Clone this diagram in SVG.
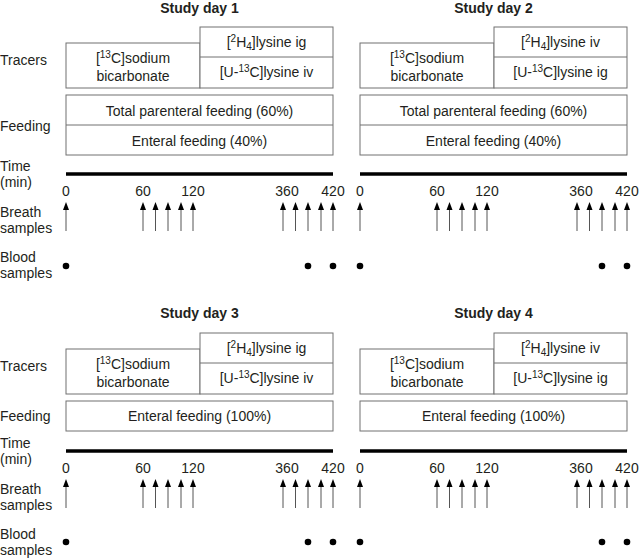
<svg xmlns="http://www.w3.org/2000/svg" width="640" height="560" viewBox="0 0 640 560">
<style>
text{font-family:"Liberation Sans",Arial,sans-serif;font-size:14px;fill:#231f20}
.title{font-weight:bold;font-size:14px;text-anchor:middle}
.c{text-anchor:middle}
.sup{font-size:10px}
.box{fill:#fff;stroke:#707070;stroke-width:1}
.tl{stroke:#000;stroke-width:3.5}
.ar{stroke:#555;stroke-width:1;marker-end:url(#ah)}
.dot{fill:#000}
</style>
<defs>
<marker id="ah" markerUnits="userSpaceOnUse" markerWidth="6" markerHeight="8" refX="3" refY="0" orient="auto-start-reverse" viewBox="0 0 6 8" overflow="visible">
<path d="M0,8 L3,0 L6,8 Z" fill="#000" transform="rotate(90 3 0) translate(0,-8) rotate(0)"/>
</marker>
</defs>
<g id="row-labels">
<text x="0" y="65">Tracers</text>
<text x="0" y="131">Feeding</text>
<text x="0" y="171">Time</text>
<text x="0" y="187">(min)</text>
<text x="0" y="217">Breath</text>
<text x="0" y="233">samples</text>
<text x="0" y="262">Blood</text>
<text x="0" y="278">samples</text>
<text x="0" y="371">Tracers</text>
<text x="0" y="421">Feeding</text>
<text x="0" y="448">Time</text>
<text x="0" y="464">(min)</text>
<text x="0" y="494">Breath</text>
<text x="0" y="510">samples</text>
<text x="0" y="539">Blood</text>
<text x="0" y="555">samples</text>
</g>
<!-- Panel 1 -->
<g id="day1">
<text class="title" x="199.5" y="13">Study day 1</text>
<g id="day1-bicarb"><rect class="box" x="66" y="43" width="134" height="45"/>
<text class="c" x="133" y="63">[<tspan class="sup" dy="-5">13</tspan><tspan dy="5">C]sodium</tspan></text>
<text class="c" x="133" y="81">bicarbonate</text></g>
<g id="day1-lys"><rect class="box" x="200" y="27" width="133" height="61"/><line class="box" x1="200" y1="57" x2="333" y2="57"/>
<text class="c" x="266.5" y="47">[<tspan class="sup" dy="-5">2</tspan><tspan dy="5">H</tspan><tspan class="sup" dy="3">4</tspan><tspan dy="-3">]lysine ig</tspan></text>
<text class="c" x="266.5" y="77">[U-<tspan class="sup" dy="-5">13</tspan><tspan dy="5">C]lysine iv</tspan></text></g>
<g id="day1-feed"><rect class="box" x="66" y="95" width="267" height="60"/><line class="box" x1="66" y1="125" x2="333" y2="125"/>
<text class="c" x="199.5" y="116">Total parenteral feeding (60%)</text>
<text class="c" x="199.5" y="146">Enteral feeding (40%)</text></g>
<g id="day1-time"><line class="tl" x1="66" y1="174" x2="333" y2="174"/>
<text class="c" x="66" y="196">0</text><text class="c" x="143" y="196">60</text><text class="c" x="193" y="196">120</text><text class="c" x="287" y="196">360</text><text class="c" x="333" y="196">420</text></g>
<g id="day1-breath">
<line class="ar" x1="66" y1="231" x2="66" y2="210"/>
<line class="ar" x1="143" y1="231" x2="143" y2="210"/><line class="ar" x1="155.5" y1="231" x2="155.5" y2="210"/><line class="ar" x1="168" y1="231" x2="168" y2="210"/><line class="ar" x1="181" y1="231" x2="181" y2="210"/><line class="ar" x1="193" y1="231" x2="193" y2="210"/>
<line class="ar" x1="283" y1="231" x2="283" y2="210"/><line class="ar" x1="295.5" y1="231" x2="295.5" y2="210"/><line class="ar" x1="308" y1="231" x2="308" y2="210"/><line class="ar" x1="321" y1="231" x2="321" y2="210"/><line class="ar" x1="333" y1="231" x2="333" y2="210"/></g>
<g id="day1-blood"><circle class="dot" cx="66" cy="266" r="3.3"/><circle class="dot" cx="308" cy="266" r="3.3"/><circle class="dot" cx="333" cy="266" r="3.3"/></g>
</g>
<!-- Panel 2 -->
<g id="day2">
<text class="title" x="493.5" y="13">Study day 2</text>
<g id="day2-bicarb"><rect class="box" x="360" y="43" width="134" height="45"/>
<text class="c" x="427" y="63">[<tspan class="sup" dy="-5">13</tspan><tspan dy="5">C]sodium</tspan></text>
<text class="c" x="427" y="81">bicarbonate</text></g>
<g id="day2-lys"><rect class="box" x="494" y="27" width="133" height="61"/><line class="box" x1="494" y1="57" x2="627" y2="57"/>
<text class="c" x="560.5" y="47">[<tspan class="sup" dy="-5">2</tspan><tspan dy="5">H</tspan><tspan class="sup" dy="3">4</tspan><tspan dy="-3">]lysine iv</tspan></text>
<text class="c" x="560.5" y="77">[U-<tspan class="sup" dy="-5">13</tspan><tspan dy="5">C]lysine ig</tspan></text></g>
<g id="day2-feed"><rect class="box" x="360" y="95" width="267" height="60"/><line class="box" x1="360" y1="125" x2="627" y2="125"/>
<text class="c" x="493.5" y="116">Total parenteral feeding (60%)</text>
<text class="c" x="493.5" y="146">Enteral feeding (40%)</text></g>
<g id="day2-time"><line class="tl" x1="360" y1="174" x2="627" y2="174"/>
<text class="c" x="360" y="196">0</text><text class="c" x="437" y="196">60</text><text class="c" x="487" y="196">120</text><text class="c" x="581" y="196">360</text><text class="c" x="627" y="196">420</text></g>
<g id="day2-breath">
<line class="ar" x1="360" y1="231" x2="360" y2="210"/>
<line class="ar" x1="437" y1="231" x2="437" y2="210"/><line class="ar" x1="449.5" y1="231" x2="449.5" y2="210"/><line class="ar" x1="462" y1="231" x2="462" y2="210"/><line class="ar" x1="475" y1="231" x2="475" y2="210"/><line class="ar" x1="487" y1="231" x2="487" y2="210"/>
<line class="ar" x1="577" y1="231" x2="577" y2="210"/><line class="ar" x1="589.5" y1="231" x2="589.5" y2="210"/><line class="ar" x1="602" y1="231" x2="602" y2="210"/><line class="ar" x1="615" y1="231" x2="615" y2="210"/><line class="ar" x1="627" y1="231" x2="627" y2="210"/></g>
<g id="day2-blood"><circle class="dot" cx="360" cy="266" r="3.3"/><circle class="dot" cx="602" cy="266" r="3.3"/><circle class="dot" cx="627" cy="266" r="3.3"/></g>
</g>
<!-- Panel 3 -->
<g id="day3">
<text class="title" x="199.5" y="318">Study day 3</text>
<g id="day3-bicarb"><rect class="box" x="66" y="349" width="134" height="45"/>
<text class="c" x="133" y="369">[<tspan class="sup" dy="-5">13</tspan><tspan dy="5">C]sodium</tspan></text>
<text class="c" x="133" y="387">bicarbonate</text></g>
<g id="day3-lys"><rect class="box" x="200" y="333" width="133" height="61"/><line class="box" x1="200" y1="363" x2="333" y2="363"/>
<text class="c" x="266.5" y="353">[<tspan class="sup" dy="-5">2</tspan><tspan dy="5">H</tspan><tspan class="sup" dy="3">4</tspan><tspan dy="-3">]lysine ig</tspan></text>
<text class="c" x="266.5" y="383">[U-<tspan class="sup" dy="-5">13</tspan><tspan dy="5">C]lysine iv</tspan></text></g>
<g id="day3-feed"><rect class="box" x="66" y="401" width="267" height="30"/>
<text class="c" x="199.5" y="421">Enteral feeding (100%)</text></g>
<g id="day3-time"><line class="tl" x1="66" y1="451" x2="333" y2="451"/>
<text class="c" x="66" y="473">0</text><text class="c" x="143" y="473">60</text><text class="c" x="193" y="473">120</text><text class="c" x="287" y="473">360</text><text class="c" x="333" y="473">420</text></g>
<g id="day3-breath">
<line class="ar" x1="66" y1="508" x2="66" y2="487"/>
<line class="ar" x1="143" y1="508" x2="143" y2="487"/><line class="ar" x1="155.5" y1="508" x2="155.5" y2="487"/><line class="ar" x1="168" y1="508" x2="168" y2="487"/><line class="ar" x1="181" y1="508" x2="181" y2="487"/><line class="ar" x1="193" y1="508" x2="193" y2="487"/>
<line class="ar" x1="283" y1="508" x2="283" y2="487"/><line class="ar" x1="295.5" y1="508" x2="295.5" y2="487"/><line class="ar" x1="308" y1="508" x2="308" y2="487"/><line class="ar" x1="321" y1="508" x2="321" y2="487"/><line class="ar" x1="333" y1="508" x2="333" y2="487"/></g>
<g id="day3-blood"><circle class="dot" cx="66" cy="542" r="3.3"/><circle class="dot" cx="308" cy="542" r="3.3"/><circle class="dot" cx="333" cy="542" r="3.3"/></g>
</g>
<!-- Panel 4 -->
<g id="day4">
<text class="title" x="493.5" y="318">Study day 4</text>
<g id="day4-bicarb"><rect class="box" x="360" y="349" width="134" height="45"/>
<text class="c" x="427" y="369">[<tspan class="sup" dy="-5">13</tspan><tspan dy="5">C]sodium</tspan></text>
<text class="c" x="427" y="387">bicarbonate</text></g>
<g id="day4-lys"><rect class="box" x="494" y="333" width="133" height="61"/><line class="box" x1="494" y1="363" x2="627" y2="363"/>
<text class="c" x="560.5" y="353">[<tspan class="sup" dy="-5">2</tspan><tspan dy="5">H</tspan><tspan class="sup" dy="3">4</tspan><tspan dy="-3">]lysine iv</tspan></text>
<text class="c" x="560.5" y="383">[U-<tspan class="sup" dy="-5">13</tspan><tspan dy="5">C]lysine ig</tspan></text></g>
<g id="day4-feed"><rect class="box" x="360" y="401" width="267" height="30"/>
<text class="c" x="493.5" y="421">Enteral feeding (100%)</text></g>
<g id="day4-time"><line class="tl" x1="360" y1="451" x2="627" y2="451"/>
<text class="c" x="360" y="473">0</text><text class="c" x="437" y="473">60</text><text class="c" x="487" y="473">120</text><text class="c" x="581" y="473">360</text><text class="c" x="627" y="473">420</text></g>
<g id="day4-breath">
<line class="ar" x1="360" y1="508" x2="360" y2="487"/>
<line class="ar" x1="437" y1="508" x2="437" y2="487"/><line class="ar" x1="449.5" y1="508" x2="449.5" y2="487"/><line class="ar" x1="462" y1="508" x2="462" y2="487"/><line class="ar" x1="475" y1="508" x2="475" y2="487"/><line class="ar" x1="487" y1="508" x2="487" y2="487"/>
<line class="ar" x1="577" y1="508" x2="577" y2="487"/><line class="ar" x1="589.5" y1="508" x2="589.5" y2="487"/><line class="ar" x1="602" y1="508" x2="602" y2="487"/><line class="ar" x1="615" y1="508" x2="615" y2="487"/><line class="ar" x1="627" y1="508" x2="627" y2="487"/></g>
<g id="day4-blood"><circle class="dot" cx="360" cy="542" r="3.3"/><circle class="dot" cx="602" cy="542" r="3.3"/><circle class="dot" cx="627" cy="542" r="3.3"/></g>
</g>
</svg>
